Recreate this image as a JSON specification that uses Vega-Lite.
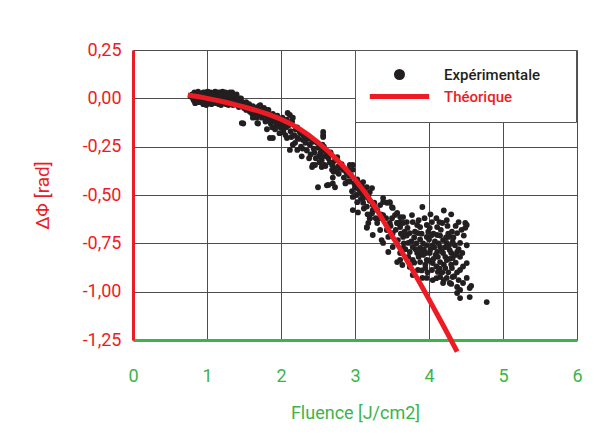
{
"$schema": "https://vega.github.io/schema/vega-lite/v6.json",
"width": 444, "height": 290,
"autosize": {"type": "none"},
"padding": {"left": 133, "top": 50, "right": 33, "bottom": 108},
"background": "white",
"config": {
  "view": {"stroke": null},
  "font": "Roboto",
  "locale": {"number": {"decimal": ",", "thousands": ".", "grouping": [3], "currency": ["", " €"], "minus": "-"}}
},
"datasets": {
"pts": [
{"f":0.78,"d":0.01},{"f":0.80,"d":0.02},{"f":0.81,"d":0.00},{"f":0.83,"d":0.03},{"f":0.84,"d":-0.01},{"f":0.85,"d":0.01},{"f":0.86,"d":0.02},{"f":0.87,"d":-0.01},{"f":0.88,"d":0.00},{"f":0.89,"d":0.01},{"f":0.90,"d":-0.02},{"f":0.91,"d":0.02},{"f":0.92,"d":0.00},{"f":0.93,"d":0.01},{"f":0.94,"d":-0.01},{"f":0.95,"d":0.03},{"f":0.96,"d":0.00},{"f":0.97,"d":-0.02},{"f":0.98,"d":0.01},{"f":0.99,"d":0.02},{"f":1.00,"d":0.00},{"f":1.01,"d":-0.01},{"f":1.02,"d":0.02},{"f":1.03,"d":0.01},{"f":1.04,"d":-0.02},{"f":1.05,"d":0.00},{"f":1.06,"d":0.02},{"f":1.07,"d":-0.01},{"f":1.08,"d":0.01},{"f":1.09,"d":0.00},{"f":1.10,"d":0.03},{"f":1.11,"d":-0.02},{"f":1.12,"d":0.01},{"f":1.13,"d":0.00},{"f":1.14,"d":0.02},{"f":1.15,"d":-0.01},{"f":1.16,"d":0.01},{"f":1.17,"d":-0.02},{"f":1.18,"d":0.00},{"f":1.19,"d":0.02},{"f":1.20,"d":-0.01},{"f":1.21,"d":0.01},{"f":1.22,"d":-0.02},{"f":1.23,"d":0.00},{"f":1.24,"d":0.02},{"f":1.25,"d":-0.01},{"f":1.26,"d":0.01},{"f":1.27,"d":-0.02},{"f":1.28,"d":0.00},{"f":1.29,"d":0.01},{"f":1.30,"d":-0.02},{"f":1.31,"d":0.00},{"f":1.32,"d":0.02},{"f":1.33,"d":-0.01},{"f":1.34,"d":0.03},{"f":1.35,"d":-0.02},{"f":1.36,"d":0.00},{"f":1.37,"d":-0.01},{"f":1.38,"d":0.01},{"f":1.39,"d":-0.03},{"f":1.40,"d":-0.01},{"f":1.41,"d":0.00},{"f":1.42,"d":-0.02},{"f":1.43,"d":-0.01},{"f":1.44,"d":-0.03},{"f":1.45,"d":-0.02},{"f":1.46,"d":0.00},{"f":1.47,"d":-0.04},{"f":1.48,"d":-0.02},{"f":1.49,"d":-0.13},{"f":0.92,"d":-0.02},{"f":1.02,"d":-0.02},{"f":1.12,"d":-0.025},{"f":1.22,"d":0.025},{"f":0.98,"d":0.03},{"f":1.08,"d":0.025},{"f":1.18,"d":0.03},{"f":1.28,"d":0.02},
{"f":0.88,"d":0.035},{"f":0.95,"d":-0.03},{"f":1.01,"d":0.035},{"f":1.06,"d":-0.03},{"f":1.11,"d":0.035},{"f":1.16,"d":-0.03},{"f":1.21,"d":0.035},{"f":1.26,"d":-0.03},{"f":1.31,"d":0.03},{"f":1.35,"d":-0.035},{"f":1.40,"d":0.02},{"f":1.43,"d":-0.045},{"f":0.84,"d":-0.025},{"f":0.99,"d":-0.035},{"f":1.19,"d":-0.035},{"f":1.29,"d":-0.035},
{"f":0.82,"d":-0.01},{"f":0.86,"d":-0.02},{"f":0.90,"d":0.01},{"f":0.94,"d":0.02},{"f":0.97,"d":0.015},{"f":1.00,"d":-0.025},{"f":1.03,"d":-0.01},{"f":1.05,"d":0.03},{"f":1.07,"d":0.02},{"f":1.10,"d":-0.01},{"f":1.13,"d":-0.02},{"f":1.15,"d":0.03},{"f":1.17,"d":0.015},{"f":1.20,"d":0.02},{"f":1.23,"d":-0.025},{"f":1.25,"d":0.03},{"f":1.27,"d":0.01},{"f":1.30,"d":0.01},{"f":1.33,"d":0.015},{"f":1.36,"d":-0.03},{"f":1.38,"d":-0.02},{"f":1.41,"d":-0.035},{"f":1.44,"d":0.00},{"f":1.46,"d":-0.04},{"f":1.50,"d":-0.05},{"f":1.53,"d":-0.06},{"f":1.58,"d":-0.04},{"f":1.63,"d":-0.07},{"f":1.67,"d":-0.10},{"f":1.73,"d":-0.08},
{"f":1.51,"d":-0.03},{"f":1.52,"d":-0.05},{"f":1.53,"d":-0.02},{"f":1.55,"d":-0.04},{"f":1.56,"d":-0.06},{"f":1.57,"d":-0.03},{"f":1.58,"d":-0.07},{"f":1.60,"d":-0.05},{"f":1.61,"d":-0.08},{"f":1.62,"d":-0.04},{"f":1.64,"d":-0.06},{"f":1.65,"d":-0.09},{"f":1.66,"d":-0.05},{"f":1.68,"d":-0.07},{"f":1.69,"d":-0.13},{"f":1.70,"d":-0.04},{"f":1.71,"d":-0.08},{"f":1.72,"d":-0.06},{"f":1.74,"d":-0.10},{"f":1.75,"d":-0.07},{"f":1.77,"d":-0.05},{"f":1.78,"d":-0.09},{"f":1.79,"d":-0.12},{"f":1.80,"d":-0.08},{"f":1.82,"d":-0.11},{"f":1.83,"d":-0.06},{"f":1.84,"d":-0.09},{"f":1.86,"d":-0.13},{"f":1.87,"d":-0.10},{"f":1.88,"d":-0.15},{"f":1.89,"d":-0.08},{"f":1.90,"d":-0.12},{"f":1.92,"d":-0.16},{"f":1.93,"d":-0.11},{"f":1.94,"d":-0.14},{"f":1.95,"d":-0.09},{"f":1.97,"d":-0.13},{"f":1.98,"d":-0.18},{"f":2.00,"d":-0.12},{"f":2.01,"d":-0.15},{"f":2.02,"d":-0.10},{"f":2.03,"d":-0.17},{"f":2.05,"d":-0.13},{"f":2.06,"d":-0.19},{"f":2.07,"d":-0.15},{"f":2.08,"d":-0.11},{"f":1.62,"d":-0.10},{"f":1.81,"d":-0.16},
{"f":1.72,"d":-0.035},{"f":1.81,"d":-0.06},{"f":1.89,"d":-0.086},{"f":1.85,"d":-0.112},{"f":1.95,"d":-0.12},{"f":1.99,"d":-0.15},{"f":2.03,"d":-0.175},{"f":1.89,"d":-0.205},{"f":2.08,"d":-0.205},{"f":2.12,"d":-0.086},{"f":2.16,"d":-0.10},{"f":2.09,"d":-0.076},{"f":2.22,"d":-0.15},{"f":2.26,"d":-0.18},{"f":2.22,"d":-0.205},{"f":2.30,"d":-0.215},{"f":2.16,"d":-0.24},{"f":2.12,"d":-0.267},{"f":2.22,"d":-0.267},{"f":2.28,"d":-0.30},{"f":2.39,"d":-0.24},{"f":2.43,"d":-0.225},{"f":2.50,"d":-0.256},{"f":2.57,"d":-0.174},{"f":2.57,"d":-0.20},{"f":2.53,"d":-0.283},{"f":2.62,"d":-0.30},{"f":2.55,"d":-0.32},{"f":2.42,"d":-0.355},{"f":2.46,"d":-0.345},{"f":2.59,"d":-0.345},{"f":2.70,"d":-0.335},{"f":2.76,"d":-0.304},{"f":2.69,"d":-0.37},{"f":2.80,"d":-0.355},{"f":2.91,"d":-0.37},{"f":2.97,"d":-0.345},{"f":1.68,"d":-0.128},{"f":1.85,"d":-0.205},{"f":1.47,"d":-0.128},
{"f":2.10,"d":-0.14},{"f":2.13,"d":-0.17},{"f":2.15,"d":-0.12},{"f":2.18,"d":-0.19},{"f":2.20,"d":-0.16},{"f":2.24,"d":-0.21},{"f":2.27,"d":-0.25},{"f":2.30,"d":-0.19},{"f":2.33,"d":-0.23},{"f":2.35,"d":-0.27},{"f":2.37,"d":-0.21},{"f":2.40,"d":-0.29},{"f":2.44,"d":-0.26},{"f":2.47,"d":-0.31},{"f":2.49,"d":-0.23},{"f":2.52,"d":-0.33},{"f":2.55,"d":-0.27},{"f":2.58,"d":-0.25},{"f":2.60,"d":-0.35},{"f":2.64,"d":-0.31},{"f":2.67,"d":-0.28},{"f":2.72,"d":-0.36},{"f":2.74,"d":-0.32},{"f":2.78,"d":-0.39},{"f":2.82,"d":-0.34},{"f":2.85,"d":-0.41},{"f":2.88,"d":-0.38},{"f":2.90,"d":-0.43},{"f":2.95,"d":-0.40},{"f":2.99,"d":-0.44},{"f":2.50,"d":-0.46},{"f":2.62,"d":-0.45},{"f":2.73,"d":-0.46},{"f":2.43,"d":-0.345},{"f":2.57,"d":-0.19},
{"f":2.14,"d":-0.20},{"f":2.19,"d":-0.23},{"f":2.25,"d":-0.17},{"f":2.29,"d":-0.26},{"f":2.34,"d":-0.20},{"f":2.38,"d":-0.31},{"f":2.45,"d":-0.28},{"f":2.51,"d":-0.30},{"f":2.56,"d":-0.24},{"f":2.61,"d":-0.28},{"f":2.66,"d":-0.33},{"f":2.71,"d":-0.38},{"f":2.78,"d":-0.35},{"f":2.84,"d":-0.37},{"f":2.87,"d":-0.44},{"f":2.92,"d":-0.40},{"f":3.02,"d":-0.50},{"f":3.08,"d":-0.52},{"f":3.12,"d":-0.57},{"f":3.17,"d":-0.60},
{"f":2.57,"d":-0.30},{"f":2.55,"d":-0.355},{"f":2.64,"d":-0.448},{"f":2.70,"d":-0.44},{"f":2.70,"d":-0.41},{"f":2.76,"d":-0.38},{"f":2.69,"d":-0.345},{"f":2.80,"d":-0.36},{"f":2.73,"d":-0.32},{"f":2.89,"d":-0.386},{"f":2.93,"d":-0.345},{"f":2.97,"d":-0.37},{"f":3.03,"d":-0.42},{"f":3.07,"d":-0.44},{"f":3.11,"d":-0.433},{"f":3.16,"d":-0.46},{"f":3.20,"d":-0.485},{"f":3.23,"d":-0.464},{"f":2.97,"d":-0.51},{"f":3.03,"d":-0.537},{"f":2.97,"d":-0.578},{"f":3.04,"d":-0.59},{"f":3.11,"d":-0.516},{"f":3.07,"d":-0.49},{"f":3.18,"d":-0.516},{"f":3.24,"d":-0.552},{"f":3.30,"d":-0.578},{"f":3.23,"d":-0.594},{"f":3.38,"d":-0.516},{"f":3.43,"d":-0.54},{"f":3.47,"d":-0.537},{"f":3.50,"d":-0.563},{"f":3.20,"d":-0.62},{"f":3.18,"d":-0.645},{"f":3.34,"d":-0.62},{"f":3.38,"d":-0.604},{"f":3.50,"d":-0.62},{"f":3.54,"d":-0.604},{"f":3.57,"d":-0.645},{"f":3.61,"d":-0.64},{"f":3.65,"d":-0.614},{"f":3.70,"d":-0.64},{"f":3.16,"d":-0.67},
{"f":3.11,"d":-0.49},{"f":3.18,"d":-0.50},{"f":3.11,"d":-0.54},{"f":3.16,"d":-0.56},{"f":3.24,"d":-0.578},{"f":3.34,"d":-0.552},{"f":3.38,"d":-0.536},{"f":3.47,"d":-0.54},{"f":3.51,"d":-0.567},{"f":3.57,"d":-0.593},{"f":3.61,"d":-0.614},{"f":3.91,"d":-0.562},{"f":3.20,"d":-0.62},{"f":3.16,"d":-0.666},{"f":3.30,"d":-0.645},{"f":3.34,"d":-0.681},{"f":3.43,"d":-0.681},{"f":3.47,"d":-0.645},{"f":3.57,"d":-0.645},{"f":3.61,"d":-0.666},{"f":3.65,"d":-0.645},{"f":3.24,"d":-0.707},{"f":3.36,"d":-0.733},{"f":3.45,"d":-0.717},{"f":3.51,"d":-0.697},{"f":3.58,"d":-0.733},{"f":3.65,"d":-0.717},{"f":3.77,"d":-0.604},{"f":3.78,"d":-0.64},{"f":3.84,"d":-0.655},{"f":3.88,"d":-0.666},{"f":3.97,"d":-0.655},{"f":4.01,"d":-0.67},{"f":4.11,"d":-0.666},{"f":4.18,"d":-0.645},{"f":4.24,"d":-0.63},{"f":4.51,"d":-0.655},{"f":4.49,"d":-0.67},{"f":4.38,"d":-0.697},{"f":4.28,"d":-0.717},{"f":4.19,"d":-0.733},{"f":4.11,"d":-0.707},{"f":3.97,"d":-0.717},{"f":3.85,"d":-0.697},{"f":3.74,"d":-0.697},{"f":3.72,"d":-0.748},{"f":3.78,"d":-0.769},{"f":3.88,"d":-0.774},{"f":3.97,"d":-0.759},{"f":4.05,"d":-0.759},{"f":4.15,"d":-0.769},{"f":4.24,"d":-0.748},{"f":4.32,"d":-0.743},{"f":4.42,"d":-0.748},{"f":4.38,"d":-0.795},{"f":4.28,"d":-0.785},{"f":4.19,"d":-0.80},{"f":4.11,"d":-0.795},{"f":4.01,"d":-0.80},{"f":3.92,"d":-0.81},{"f":3.84,"d":-0.80},{"f":3.74,"d":-0.795},{"f":3.65,"d":-0.774},{"f":3.61,"d":-0.836},{"f":3.70,"d":-0.826},{"f":3.78,"d":-0.836},{"f":3.88,"d":-0.847},{"f":3.97,"d":-0.836},{"f":4.05,"d":-0.852},{"f":4.15,"d":-0.847},{"f":4.24,"d":-0.836},{"f":4.32,"d":-0.826},{"f":4.42,"d":-0.82},{"f":4.51,"d":-0.852},{"f":3.74,"d":-0.872},{"f":3.85,"d":-0.888},{"f":3.95,"d":-0.878},{"f":4.04,"d":-0.888},{"f":4.12,"d":-0.898},{"f":4.22,"d":-0.878},{"f":4.31,"d":-0.878},{"f":4.42,"d":-0.888},{"f":4.32,"d":-0.924},{"f":4.24,"d":-0.929},{"f":4.15,"d":-0.924},{"f":4.05,"d":-0.94},{"f":3.97,"d":-0.929},{"f":4.19,"d":-0.955},{"f":4.28,"d":-0.955},{"f":4.38,"d":-0.976},{"f":4.51,"d":-0.929},{"f":4.46,"d":-0.955},{"f":4.42,"d":-0.991},{"f":4.38,"d":-1.007},{"f":4.55,"d":-0.981},{"f":4.55,"d":-1.028},{"f":4.42,"d":-1.033},{"f":4.78,"d":-1.054},{"f":3.78,"d":-0.914},{"f":3.91,"d":-0.929},{"f":3.64,"d":-0.862},{"f":3.57,"d":-0.847},{"f":3.45,"d":-0.795},{"f":3.61,"d":-0.80},{"f":3.51,"d":-0.769},{"f":3.38,"d":-0.748},
{"f":4.49,"d":-0.645},{"f":4.51,"d":-0.76},{"f":4.57,"d":-0.97},
{"f":3.80,"d":-0.72},{"f":3.90,"d":-0.70},{"f":4.00,"d":-0.73},{"f":4.08,"d":-0.74},{"f":4.15,"d":-0.71},{"f":4.22,"d":-0.77},{"f":4.30,"d":-0.80},{"f":4.35,"d":-0.76},{"f":3.82,"d":-0.78},{"f":3.92,"d":-0.75},{"f":4.02,"d":-0.78},{"f":4.12,"d":-0.82},{"f":4.20,"d":-0.86},{"f":4.28,"d":-0.83},{"f":4.36,"d":-0.85},{"f":3.86,"d":-0.82},{"f":3.95,"d":-0.86},{"f":4.06,"d":-0.83},{"f":4.10,"d":-0.87},{"f":4.18,"d":-0.90},{"f":4.26,"d":-0.90},{"f":4.34,"d":-0.92},{"f":3.76,"d":-0.74},{"f":3.70,"d":-0.71},{"f":3.68,"d":-0.78},{"f":3.99,"d":-0.69},{"f":4.06,"d":-0.70},{"f":4.16,"d":-0.68},{"f":4.26,"d":-0.70},{"f":4.33,"d":-0.72},{"f":4.40,"d":-0.78},{"f":4.45,"d":-0.80},{"f":4.46,"d":-0.87},{"f":4.40,"d":-0.94},{"f":4.30,"d":-0.96},{"f":4.20,"d":-0.94},{"f":4.10,"d":-0.93},{"f":3.98,"d":-0.90},{"f":3.90,"d":-0.89},{"f":3.80,"d":-0.85},{"f":3.72,"d":-0.82},{"f":3.66,"d":-0.75},{"f":3.62,"d":-0.70},{"f":3.55,"d":-0.68},{"f":3.48,"d":-0.66},{"f":3.42,"d":-0.62},{"f":3.35,"d":-0.60},{"f":3.28,"d":-0.62},{"f":3.26,"d":-0.54},{"f":3.20,"d":-0.53},{"f":3.14,"d":-0.50},
{"f":3.83,"d":-0.75},{"f":3.88,"d":-0.73},{"f":3.93,"d":-0.78},{"f":3.96,"d":-0.80},{"f":4.03,"d":-0.71},{"f":4.07,"d":-0.77},{"f":4.13,"d":-0.75},{"f":4.17,"d":-0.79},{"f":4.23,"d":-0.72},{"f":4.27,"d":-0.76},{"f":4.31,"d":-0.69},{"f":4.36,"d":-0.81},{"f":4.09,"d":-0.81},{"f":4.00,"d":-0.84},{"f":3.89,"d":-0.80},{"f":4.14,"d":-0.88},{"f":4.22,"d":-0.82},{"f":4.30,"d":-0.86},{"f":4.38,"d":-0.90},{"f":4.47,"d":-0.71},{"f":4.44,"d":-0.68},{"f":4.36,"d":-0.66},{"f":4.25,"d":-0.66},{"f":4.14,"d":-0.64},{"f":4.04,"d":-0.64},{"f":3.94,"d":-0.62},{"f":3.86,"d":-0.63},{"f":3.81,"d":-0.69},{"f":3.71,"d":-0.67},{"f":3.67,"d":-0.69},
{"f":4.02,"d":-0.60},{"f":4.10,"d":-0.62},{"f":4.20,"d":-0.58},{"f":4.30,"d":-0.60},{"f":4.40,"d":-0.64},
{"f":3.00,"d":-0.46},{"f":3.05,"d":-0.47},{"f":3.09,"d":-0.45},{"f":3.13,"d":-0.48},{"f":2.93,"d":-0.43},{"f":2.96,"d":-0.48}
],
"theo": [
{"f":0.74,"d":0.017},{"f":1.0,"d":0.0},{"f":1.25,"d":-0.02},{"f":1.5,"d":-0.045},{"f":1.75,"d":-0.072},{"f":2.0,"d":-0.108},{"f":2.25,"d":-0.158},{"f":2.5,"d":-0.228},{"f":2.75,"d":-0.315},{"f":3.0,"d":-0.42},{"f":3.25,"d":-0.55},{"f":3.5,"d":-0.71},{"f":3.75,"d":-0.87},{"f":4.0,"d":-1.04},{"f":4.2,"d":-1.18},{"f":4.38,"d":-1.31}
]
},
"encoding": {
  "x": {"field": "f", "type": "quantitative",
    "scale": {"domain": [0, 6], "nice": false, "zero": false},
    "axis": {"title": "Fluence [J/cm2]", "values": [0,1,2,3,4,5,6], "format": "d",
      "ticks": false, "grid": true, "gridColor": "#4d4d4d", "gridWidth": 1, "labelFlush": false,
      "domainColor": "#3cb44b", "domainWidth": 3,
      "labelColor": "#3cb44b", "labelFontSize": 18, "labelPadding": 27,
      "titleColor": "#3cb44b", "titleFontSize": 18, "titleFontWeight": "normal", "titlePadding": 19}},
  "y": {"field": "d", "type": "quantitative",
    "scale": {"domain": [-1.25, 0.25], "nice": false, "zero": false},
    "axis": {"title": "ΔΦ [rad]", "values": [-1.25,-1,-0.75,-0.5,-0.25,0,0.25], "format": ".2f",
      "ticks": false, "grid": true, "gridColor": "#4d4d4d", "gridWidth": 1, "labelFlush": false,
      "domainColor": "#ed1c24", "domainWidth": 3,
      "labelColor": "#ed1c24", "labelFontSize": 18, "labelPadding": 12,
      "titleColor": "#ed1c24", "titleFontSize": 19, "titleFontWeight": "normal", "titlePadding": 30}}
},
"layer": [
  {"data": {"name": "pts"},
   "mark": {"type": "point", "filled": true, "size": 34, "opacity": 1},
   "encoding": {
     "color": {"datum": "Expérimentale", "type": "nominal",
       "scale": {"domain": ["Expérimentale", "Théorique"], "range": ["#231f20", "#ed1c24"]},
       "legend": {"title": null, "orient": "none", "legendX": 222, "legendY": 0,
         "padding": 17, "fillColor": "white", "strokeColor": "#555555",
         "symbolSize": 121, "symbolStrokeWidth": 0, "symbolOffset": 20, "rowPadding": 6,
         "labelOffset": 37, "labelFontSize": 15, "labelFontWeight": 500,
         "labelColor": {"expr": "datum.value === 'Théorique' ? '#ed1c24' : '#231f20'"},
         "labelExpr": "datum.label + '     \u200b'"}},
     "shape": {"datum": "Expérimentale", "type": "nominal",
       "scale": {"domain": ["Expérimentale", "Théorique"], "range": ["circle", "M-5.4,-0.45H5.4V0.45H-5.4Z"]},
       "legend": {"title": null, "orient": "none", "legendX": 222, "legendY": 0,
         "padding": 17, "fillColor": "white", "strokeColor": "#555555",
         "symbolSize": 121, "symbolStrokeWidth": 0, "symbolOffset": 20, "rowPadding": 6,
         "labelOffset": 37, "labelFontSize": 15, "labelFontWeight": 500,
         "labelColor": {"expr": "datum.value === 'Théorique' ? '#ed1c24' : '#231f20'"},
         "labelExpr": "datum.label + '     \u200b'"}}}},
  {"data": {"name": "theo"},
   "mark": {"type": "line", "strokeWidth": 5, "interpolate": "monotone", "clip": false},
   "encoding": {"color": {"datum": "Théorique", "type": "nominal"}}}
]
}
